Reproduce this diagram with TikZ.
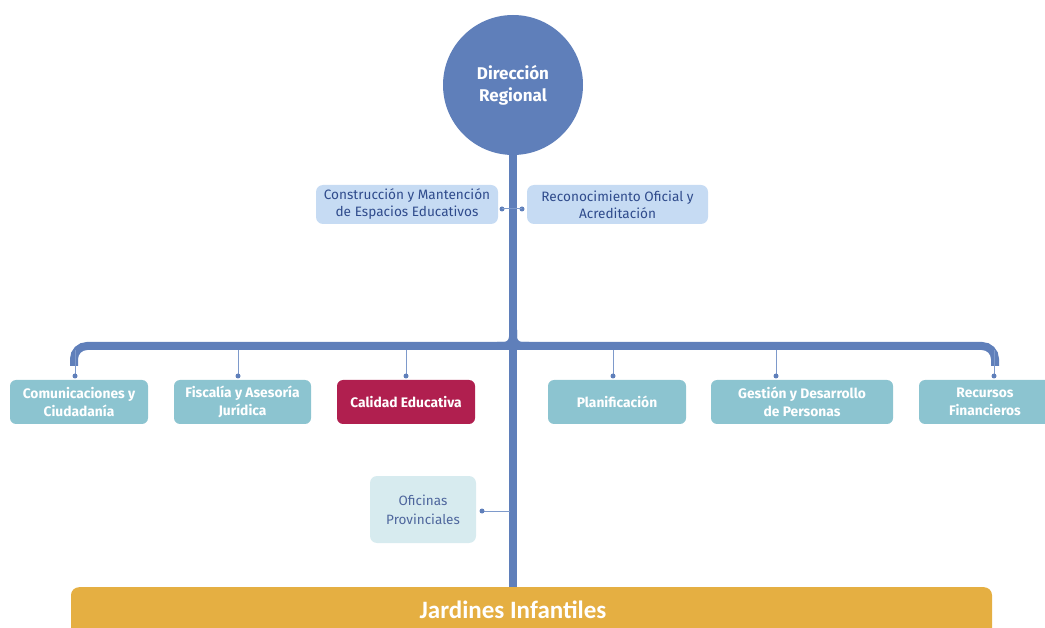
\documentclass[tikz,border=0pt]{standalone}
\usepackage{fontspec}
\setmainfont{Fira Sans}
\newfontfamily\jardfont{Carlito}
\definecolor{trunkblue}{HTML}{5F7FBA}
\definecolor{thinblue}{HTML}{7E9ACB}
\definecolor{lightbox}{HTML}{C6DBF3}
\definecolor{lighttext}{HTML}{2F4B8C}
\definecolor{tealbox}{HTML}{8CC4D0}
\definecolor{crimson}{HTML}{B01F4F}
\definecolor{paleteal}{HTML}{D7EBEF}
\definecolor{gold}{HTML}{E5AF42}
\begin{document}
\begin{tikzpicture}[x=1pt,y=-1pt,
  trunk/.style={draw=trunkblue,line width=8pt},
  thin/.style={draw=thinblue,line width=1pt},
  dotc/.style={fill=trunkblue},
  lbox/.style={fill=lightbox,rounded corners=7pt,text=lighttext,font=\fontsize{13.6}{17}\selectfont,align=center,inner sep=0pt},
  tbox/.style={fill=tealbox,rounded corners=6pt,text=white,font=\bfseries\fontsize{13.8}{18}\selectfont,align=center,inner sep=0pt},
  cbox/.style={fill=crimson,rounded corners=6pt,text=white,font=\bfseries\fontsize{13.8}{18}\selectfont,align=center,inner sep=0pt},
  pbox/.style={fill=paleteal,rounded corners=7pt,text=lighttext!85!white,font=\fontsize{13.5}{19}\selectfont,align=center,inner sep=0pt}
]
\useasboundingbox (0,0) rectangle (1045,628);
% trunk
\coordinate (tbot) at (513,588);
\node[circle,fill=trunkblue,minimum size=140pt,inner sep=0pt,text=white,font=\bfseries\fontsize{17}{22}\selectfont,align=center] (dr) at (513,85) {Dirección\\Regional};
\draw[trunk] (dr.south) -- (tbot);
% horizontal bar
\coordinate (bl) at (74,366);
\coordinate (br) at (995,366);
\draw[trunk,rounded corners=13pt] (bl) -- (74,346) -- (995,346) -- (br);
\draw[trunk,rounded corners=9pt] (497,346) -| (513,330);
\draw[trunk,rounded corners=9pt] (529,346) -| (513,330);
% top boxes
\node[lbox,minimum width=182pt,minimum height=39pt] (cons) at (407,204.5) {Construcción y Mantención\\de Espacios Educativos};
\node[lbox,minimum width=181pt,minimum height=39pt] (reco) at (617.5,204.5) {Reconocimiento Oficial y\\Acreditación};
\fill[dotc] (502,209) circle (2.5pt) coordinate (d1);
\fill[dotc] (522,209) circle (2.5pt) coordinate (d2);
\draw[thin] (d1) -- (d2);
% second row
\node[tbox,minimum width=138pt,minimum height=44pt] (com) at (79,402) {Comunicaciones y\\Ciudadanía};
\node[tbox,minimum width=137pt,minimum height=44pt] (fis) at (242.5,402) {Fiscalía y Asesoría\\Jurídica};
\node[cbox,minimum width=138pt,minimum height=44pt] (cal) at (406,402) {Calidad Educativa};
\node[tbox,minimum width=138pt,minimum height=44pt] (pla) at (617,402) {Planificación};
\node[tbox,minimum width=182pt,minimum height=44pt] (ges) at (802,402) {Gestión y Desarrollo\\de Personas};
\node[tbox,minimum width=132pt,minimum height=44pt] (rec) at (985,402) {Recursos\\Financieros};
% connectors to second row
\foreach \x/\n in {75/a,238/b,406/c,613/d,776/e,994/f}{
  \coordinate (top\n) at (\x,350);
  \coordinate (dot\n) at (\x,376);
  \draw[thin] (top\n) -- (dot\n);
  \fill[dotc] (dot\n) circle (2.5pt);
}
% oficinas
\node[pbox,minimum width=106pt,minimum height=67pt] (ofi) at (423,509.5) {Oficinas\\Provinciales};
\coordinate (od) at (482,511);
\coordinate (ot) at (510,511);
\draw[thin] (od) -- (ot);
\fill[dotc] (od) circle (2.5pt);
% jardines
\node[fill=gold,rounded corners=8pt,minimum width=921pt,minimum height=60pt,anchor=north,inner sep=0pt] (jar) at (531.5,587) {};
\node[text=white,font=\jardfont\bfseries\fontsize{25}{27}\selectfont] (jart) at (513,610) {Jardines Infantiles};
\end{tikzpicture}
\end{document}
